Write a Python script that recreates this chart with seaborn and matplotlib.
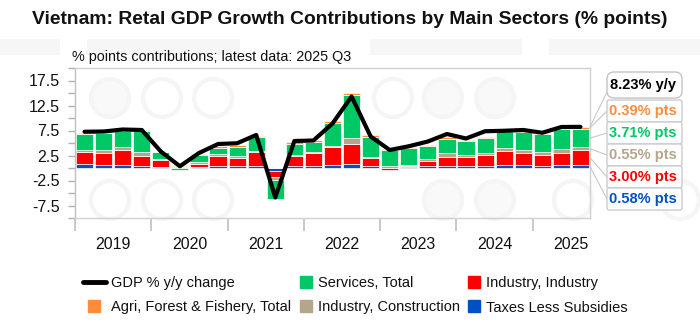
import numpy as np
import pandas as pd
import matplotlib
matplotlib.use("Agg")
import matplotlib.pyplot as plt
import seaborn as sns
from matplotlib.patches import FancyBboxPatch, Circle, Rectangle
from matplotlib.lines import Line2D
from matplotlib.transforms import IdentityTransform

# ---- data -------------------------------------------------------------
quarters = [f"{y} Q{q}" for y in range(2019, 2026) for q in range(1, 5)][:27]
years = ["2019", "2020", "2021", "2022", "2023", "2024", "2025"]

gdp_yy = [7.25, 7.3, 7.7, 7.6, 3.3, 0.35, 3.0, 4.8,
          4.95, 6.6, -5.9, 5.4, 5.5, 8.9, 14.3, 6.3,
          3.6, 4.35, 5.3, 6.8, 5.9, 7.35, 7.45, 7.6,
          7.05, 8.2, 8.23]
taxes = [0.8, 0.6, 0.55, 0.45, 0.25, 0.1, 0.25, 0.35,
         0.45, 0.45, -0.5, 0.45, 0.45, 0.6, 0.85, 0.45,
         0.1, 0.2, 0.35, 0.45, 0.4, 0.45, 0.6, 0.55,
         0.45, 0.6, 0.58]
industry = [2.4, 2.4, 3.0, 2.0, 1.4, 0.15, 0.55, 2.0,
            1.65, 2.7, -1.25, 2.0, 2.5, 3.55, 3.9, 1.6,
            -0.3, 0.25, 1.1, 1.85, 1.8, 2.25, 2.9, 2.45,
            2.2, 2.5, 3.00]
construction = [0.45, 0.65, 0.6, 0.7, 0.2, 0.2, 0.5, 0.5,
                0.4, 0.35, -0.65, 0.25, 0.25, 0.35, 1.2, 0.15,
                0.3, 0.2, 0.45, 0.65, 0.35, 0.4, 0.45, 0.65,
                0.6, 0.65, 0.55]
services = [3.2, 3.3, 3.3, 4.2, 1.3, -0.35, 1.3, 1.25,
            1.75, 2.65, -3.8, 2.2, 2.05, 4.6, 8.7, 3.95,
            3.3, 3.3, 2.5, 2.85, 2.8, 2.95, 3.45, 3.6,
            3.55, 4.0, 3.71]
agri = [0.25, 0.2, 0.2, 0.2, 0.1, 0.15, 0.25, 0.3,
        0.33, 0.3, 0.1, 0.3, 0.3, 0.25, 0.4, 0.4,
        0.2, 0.25, 0.3, 0.45, 0.25, 0.25, 0.2, 0.2,
        0.25, 0.45, 0.39]

series = [
    ("Taxes Less Subsidies", taxes, "#0050c3"),
    ("Industry, Industry", industry, "#ff0000"),
    ("Industry, Construction", construction, "#b4a58c"),
    ("Services, Total", services, "#00c864"),
    ("Agri, Forest & Fishery, Total", agri, "#ff8c3c"),
]

# ---- style ------------------------------------------------------------
sns.set_theme(style="white")
plt.rcParams["font.family"] = ["Liberation Sans", "DejaVu Sans"]

W, H = 700, 324
ident = IdentityTransform()
fig = plt.figure(figsize=(W / 100, H / 100), dpi=100)
fig.patch.set_facecolor("white")

# faint background stamp
for x0, x1 in [(0, 60), (87, 240), (370, 522), (549, 700)]:
    fig.add_artist(Rectangle((x0, H - 55), x1 - x0, 16, transform=ident,
                             fc="#f6f6f6", ec="none", zorder=-10))
for cx, cy, filled in [(110, 98, True), (162, 98, False), (213, 98, False),
                       (393, 98, False), (443, 98, True), (495, 98, True),
                       (645, 92, False),
                       (110, 200, False), (162, 200, False), (213, 200, False),
                       (443, 200, True), (495, 200, True), (573, 200, False),
                       (680, 200, False)]:
    fig.add_artist(Circle((cx, H - cy), 19, transform=ident,
                          fc="#f9f9f9" if filled else "none",
                          ec="#f5f5f5", lw=3, zorder=-10))

ax = fig.add_axes([75 / W, 1 - 218 / H, (590 - 75) / W, (218 - 68) / H])
ax.set_facecolor("none")

df = pd.DataFrame({"quarter": quarters, "pos": np.arange(len(quarters)),
                   "gdp": gdp_yy})

# stacked contribution bars (positives stack up, negatives stack down)
pos_base = np.zeros(len(quarters))
neg_base = np.zeros(len(quarters))
for name, vals, col in series:
    v = np.asarray(vals, dtype=float)
    base = np.where(v >= 0, pos_base, neg_base)
    ax.bar(df["pos"], v, bottom=base, width=0.9, color=col,
           edgecolor="white", linewidth=0.5, zorder=2)
    pos_base = pos_base + np.where(v >= 0, v, 0)
    neg_base = neg_base + np.where(v < 0, v, 0)

sns.lineplot(data=df, x="pos", y="gdp", color="black", linewidth=3,
             ax=ax, zorder=3)

# ---- axes -------------------------------------------------------------
ax.set_xlim(-0.5, len(quarters) - 0.5)
ax.set_ylim(-10, 20)
ax.set_xlabel("")
ax.set_ylabel("")

yt = np.arange(-10, 20.01, 2.5)
ax.set_yticks(yt)
ax.set_yticklabels([f"{v:g}" if abs(v % 5 - 2.5) < 1e-9 else "" for v in yt])
ax.tick_params(axis="y", left=True, length=5, width=1, color="#b0b0b0",
               labelsize=11.5, pad=6, labelcolor="#111111")

ax.set_xticks(np.arange(-0.5, len(quarters) - 0.5, 4))
ax.set_xticklabels([])
ax.set_xticks(np.arange(1.5, 4 * len(years), 4), minor=True)
ax.set_xticklabels(years, minor=True)
ax.tick_params(axis="x", which="major", bottom=True, length=9, width=1.2,
               color="#c0c0c0")
ax.tick_params(axis="x", which="minor", bottom=True, length=0,
               labelsize=11.5, pad=14, labelcolor="#111111")

for s in ax.spines.values():
    s.set_color("#d0d0d0")
    s.set_linewidth(1)
ax.spines["left"].set_color("#c0c0c0")

# ---- titles -----------------------------------------------------------
fig.text(0.5, 1 - 19 / H,
         "Vietnam: Retal GDP Growth Contributions by Main Sectors (% points)",
         ha="center", va="center", fontsize=13.85, fontweight="bold",
         color="#111111")
fig.text(72 / W, 1 - 57 / H, "% points contributions; latest data: 2025 Q3",
         ha="left", va="center", fontsize=10.4, color="#111111")

# ---- latest-value call-outs --------------------------------------------
last = len(quarters) - 1
cum = 0.0
mids = []
for name, vals, col in series:
    v = vals[last]
    mids.append((cum + v / 2, v, col))
    cum += v

box_x, box_w = 607, 75
# headline GDP bubble
fig.add_artist(FancyBboxPatch((box_x, H - 98), box_w, 26,
                              boxstyle="round,pad=0,rounding_size=7",
                              transform=ident, fc="white", ec="#c4c4c4",
                              lw=1, zorder=5))
fig.text((box_x + 3) / W, 1 - 85 / H, f"{gdp_yy[last]:.2f}% y/y",
         ha="left", va="center", fontsize=10.5, fontweight="bold",
         color="black", zorder=6)
ax.annotate("", xy=(len(quarters) - 0.5, gdp_yy[last]), xycoords="data",
            xytext=(box_x, H - 92), textcoords="figure pixels",
            annotation_clip=False,
            arrowprops=dict(arrowstyle="-", color="#c8c8c8", lw=0.8,
                            shrinkA=0, shrinkB=0))

row_tops = [100, 122, 144, 166, 188]
for (mid, v, col), top in zip(reversed(mids), row_tops):
    fig.add_artist(FancyBboxPatch((box_x, H - top - 22), box_w, 22,
                                  boxstyle="round,pad=0,rounding_size=2",
                                  transform=ident, fc="white", ec="#cccccc",
                                  lw=1, zorder=5))
    fig.text((box_x + 2) / W, 1 - (top + 11) / H, f"{v:.2f}% pts",
             ha="left", va="center", fontsize=10.5, fontweight="bold",
             color=col, zorder=6)
    ax.annotate("", xy=(len(quarters) - 0.5, mid), xycoords="data",
                xytext=(box_x, H - top - 11), textcoords="figure pixels",
                annotation_clip=False,
                arrowprops=dict(arrowstyle="-", color="#c8c8c8", lw=0.8,
                                shrinkA=0, shrinkB=0))

# ---- legend (three columns) ---------------------------------------------
def sq(col):
    return Line2D([], [], marker="s", linestyle="none", markersize=8.5,
                  markerfacecolor=col, markeredgecolor=col)

colors = {name: col for name, _, col in series}
columns = [
    (83, [Line2D([], [], color="black", lw=3.5), sq(colors["Agri, Forest & Fishery, Total"])],
     ["GDP % y/y change", "Agri, Forest & Fishery, Total"], 1.55),
    (300, [sq(colors["Services, Total"]), sq(colors["Industry, Construction"])],
     ["Services, Total", "Industry, Construction"], 0.85),
    (468, [sq(colors["Industry, Industry"]), sq(colors["Taxes Less Subsidies"])],
     ["Industry, Industry", "Taxes Less Subsidies"], 0.85),
]
for x0, handles, labels, hl in columns:
    fig.legend(handles, labels, loc="upper left",
               bbox_to_anchor=(x0 / W, 1 - 276 / H), frameon=False,
               fontsize=10.5, handlelength=hl, handletextpad=0.4,
               borderpad=0, borderaxespad=0, labelspacing=0.72,
               labelcolor="#111111")

fig.savefig("out.png", dpi=100, facecolor="white")
